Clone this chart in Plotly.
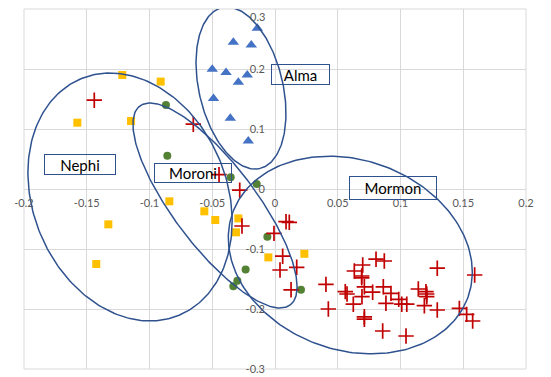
import numpy as np
import plotly.graph_objects as go

# ---------------- data ----------------
alma_x = [-0.0141, -0.0332, -0.0189, -0.0500, -0.0390, -0.0221, -0.0292, -0.0490, -0.0356, -0.0213]
alma_y = [0.268, 0.2445, 0.240, 0.1995, 0.194, 0.190, 0.178, 0.151, 0.118, 0.080]

nephi_x = [-0.1217, -0.0911, -0.1575, -0.1147, -0.0842, -0.0563, -0.0476, -0.0292, -0.0311,
           -0.1328, -0.1424, -0.0053, 0.0234]
nephi_y = [0.190, 0.179, 0.1105, 0.1133, -0.0205, -0.0372, -0.0517, -0.049, -0.0722,
           -0.0589, -0.125, -0.114, -0.108]

moroni_x = [-0.0869, -0.0858, -0.0353, -0.0146, -0.0061, -0.0234, -0.0300, -0.0332, 0.0207]
moroni_y = [0.140, 0.0555, 0.0195, 0.0083, -0.0795, -0.134, -0.153, -0.162, -0.168]

mormon_x = [-0.144, -0.0651, -0.0446, -0.0281, -0.0263, -0.0008, 0.0088, 0.0114, 0.0061, 0.0040,
            0.0173, 0.0128, 0.0406, 0.0425, 0.0805, 0.0871, 0.0699, 0.0632, 0.0691, 0.0691,
            0.0712, 0.0560, 0.0574, 0.0778, 0.0863, 0.0924, 0.0693, 0.0624, 0.0884, 0.0986,
            0.1010, 0.1050, 0.0712, 0.0712, 0.0858, 0.1044, 0.1142, 0.1203, 0.1209, 0.1209,
            0.1190, 0.1293, 0.1293, 0.1469, 0.1527, 0.1575, 0.1591]
mormon_y = [0.148, 0.108, 0.024, -0.002, -0.0617, -0.074, -0.0545, -0.0555, -0.112, -0.135,
            -0.1305, -0.168, -0.159, -0.200, -0.117, -0.120, -0.1267, -0.1367, -0.145, -0.148,
            -0.163, -0.171, -0.175, -0.172, -0.163, -0.174, -0.1795, -0.192, -0.1905, -0.184,
            -0.192, -0.192, -0.213, -0.217, -0.2367, -0.245, -0.1667, -0.171, -0.175, -0.1795,
            -0.1945, -0.132, -0.2017, -0.199, -0.209, -0.220, -0.1433]

x_ticks = [-0.2, -0.15, -0.1, -0.05, 0, 0.05, 0.1, 0.15, 0.2]
x_tick_text = ["-0.2", "-0.15", "-0.1", "-0.05", "0", "0.05", "0.1", "0.15", "0.2"]
y_ticks = [-0.3, -0.2, -0.1, 0, 0.1, 0.2, 0.3]
y_tick_text = ["-0.3", "-0.2", "-0.1", "0", "0.1", "0.2", "0.3"]

group_names = ["Nephi", "Moroni", "Alma", "Mormon"]
label_x = [-0.1554, -0.0653, 0.0203, 0.0940]
label_y = [0.0408, 0.0267, 0.1908, 0.0017]

# ellipse outlines: centre (data), semi-axes (px), rotation (deg)
ell_cx = [-0.1155, -0.0478, -0.0271, 0.0600]
ell_cy = [-0.0133, -0.0275, 0.1683, -0.110]

# ---------------- layout constants ----------------
# the page body has an 8px margin, so the figure is offset by (8, 8)
W, H = 543, 369
ML, MR, MT, MB = 16, 25, 1, 8
X_RANGE = [-0.2, 0.2]
Y_RANGE = [-0.3, 0.3]
PW, PH = W - ML - MR, H - MT - MB
kx = PW / (X_RANGE[1] - X_RANGE[0])
ky = PH / (Y_RANGE[1] - Y_RANGE[0])

ell_a = [128, 124.7, 82.6, 125.0]
ell_b = [97, 41.1, 41.9, 95]
ell_ang = [-67.5, -52.9, -76.7, -19.6]
label_w = [70, 76, 57, 86]
label_h = [19, 18, 19, 22]

ELL_COLOR = "#2F528F"
TICK_COLOR = "#595959"
FONT = "Lato, Carlito, Calibri, 'Liberation Sans', sans-serif"


def ellipse(cx, cy, a, b, ang):
    t = np.linspace(0, 2 * np.pi, 240)
    th = np.radians(ang)
    u, v = a * np.cos(t), b * np.sin(t)
    dx = u * np.cos(th) - v * np.sin(th)
    dy = u * np.sin(th) + v * np.cos(th)
    return cx + dx / kx, cy + dy / ky


fig = go.Figure()

fig.add_trace(go.Scatter(x=nephi_x, y=nephi_y, mode="markers", name="Nephi",
                         marker=dict(symbol="square", size=8, color="#FFC000")))
fig.add_trace(go.Scatter(x=moroni_x, y=moroni_y, mode="markers", name="Moroni",
                         marker=dict(symbol="circle", size=8, color="#548235")))
fig.add_trace(go.Scatter(x=alma_x, y=alma_y, mode="markers", name="Alma",
                         marker=dict(symbol="triangle-up", size=10, color="#4472C4")))
fig.add_trace(go.Scatter(x=mormon_x, y=mormon_y, mode="markers", name="Mormon",
                         marker=dict(symbol="cross-thin", size=11,
                                     line=dict(color="#C00000", width=1.7))))

for i in range(4):
    ex, ey = ellipse(ell_cx[i], ell_cy[i], ell_a[i], ell_b[i], ell_ang[i])
    fig.add_trace(go.Scatter(x=ex, y=ey, mode="lines", hoverinfo="skip",
                             line=dict(color=ELL_COLOR, width=1.5), showlegend=False))

for i, name in enumerate(group_names):
    fig.add_annotation(x=label_x[i], y=label_y[i], xref="x", yref="y", text=name,
                       showarrow=False, width=label_w[i], height=label_h[i],
                       borderpad=0, bordercolor=ELL_COLOR, borderwidth=1,
                       font=dict(family=FONT, size=15, color="#000000"))

# the top y label sits at the very top edge of the page; draw it as an
# annotation hanging just below its tick so it is not clipped
axis_y_text = y_tick_text[:-1] + [""]
fig.add_annotation(x=0, y=y_ticks[-1], xref="x", yref="y", text=y_tick_text[-1],
                   showarrow=False, xanchor="right", yanchor="top", xshift=-9,
                   borderpad=0, font=dict(family=FONT, size=11, color=TICK_COLOR))

GRID = "#D9D9D9"
fig.update_xaxes(range=X_RANGE, tickvals=x_ticks, ticktext=x_tick_text,
                 showgrid=True, gridcolor=GRID, gridwidth=1,
                 zeroline=True, zerolinecolor=GRID, zerolinewidth=1,
                 showline=False, anchor="free", position=0.5, automargin=False,
                 ticks="", ticklabelstandoff=6, ticklabeloverflow="allow",
                 tickfont=dict(family=FONT, size=11, color=TICK_COLOR))
fig.update_yaxes(range=Y_RANGE, tickvals=y_ticks, ticktext=axis_y_text,
                 showgrid=True, gridcolor=GRID, gridwidth=1,
                 zeroline=True, zerolinecolor=GRID, zerolinewidth=1,
                 showline=False, anchor="free", position=0.5, automargin=False,
                 ticks="", ticklabelstandoff=10, ticklabeloverflow="allow",
                 tickfont=dict(family=FONT, size=11, color=TICK_COLOR))

# plot-area border
fig.add_shape(type="rect", xref="paper", yref="paper", x0=0, y0=0, x1=1, y1=1,
              line=dict(color=GRID, width=1), layer="below")

fig.update_layout(width=W, height=H, margin=dict(l=ML, r=MR, t=MT, b=MB),
                  paper_bgcolor="white", plot_bgcolor="white", showlegend=False)

fig.write_html("out.html")
